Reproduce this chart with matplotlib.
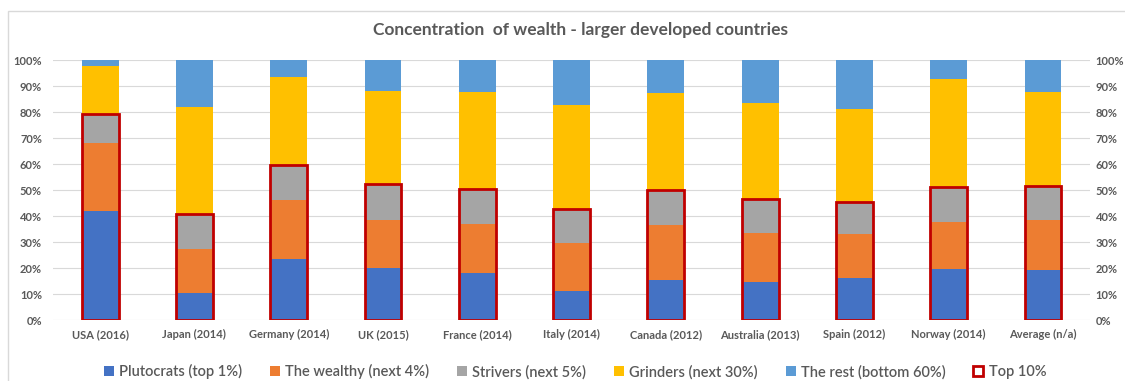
import numpy as np
import matplotlib.pyplot as plt
from matplotlib.patches import Patch, Rectangle

plt.rcParams['font.family'] = ['Lato', 'DejaVu Sans']

countries = ["USA (2016)", "Japan (2014)", "Germany (2014)", "UK (2015)", "France (2014)",
             "Italy (2014)", "Canada (2012)", "Australia (2013)", "Spain (2012)",
             "Norway (2014)", "Average (n/a)"]

# shares of total wealth, percent
plutocrats = [42.2, 10.5, 23.5, 20.1, 18.4, 11.5, 15.5, 14.8, 16.4, 19.9, 19.4]
wealthy = [25.8, 17.0, 22.8, 18.5, 18.8, 18.2, 21.2, 18.7, 16.8, 18.0, 19.2]
strivers = [11.3, 13.4, 13.4, 13.7, 13.3, 13.0, 13.4, 13.0, 12.1, 13.3, 13.1]
grinders = [18.4, 41.2, 33.7, 35.8, 37.1, 39.9, 37.2, 36.9, 35.9, 41.4, 35.9]
the_rest = [2.3, 17.9, 6.6, 11.9, 12.4, 17.4, 12.7, 16.6, 18.8, 7.4, 12.4]

series = [
    ("Plutocrats (top 1%)", plutocrats, "#4472C4"),
    ("The wealthy (next 4%)", wealthy, "#ED7D31"),
    ("Strivers (next 5%)", strivers, "#A5A5A5"),
    ("Grinders (next 30%)", grinders, "#FFC000"),
    ("The rest (bottom 60%)", the_rest, "#5B9BD5"),
]
red = "#C00000"
txt = "#595959"

fig = plt.figure(figsize=(11.25, 3.81), dpi=100)
ax = fig.add_axes([0.0471, 0.1588, 0.9219, 0.6837])

# chart border
fig.patches.append(Rectangle((8 / 1125, -0.1), 1.2, 1 - 11 / 381 + 0.1, transform=fig.transFigure,
                             fill=False, edgecolor="#D9D9D9", linewidth=1.0))

x = np.arange(len(countries))
width = 0.39
bottom = np.zeros(len(countries))
for name, vals, col in series:
    vals = np.array(vals)
    ax.bar(x, vals, width, bottom=bottom, color=col, zorder=2)
    bottom += vals

# top 10% outline
top10 = np.array(plutocrats) + np.array(wealthy) + np.array(strivers)
ax.bar(x, top10, width, fill=False, edgecolor=red, linewidth=2, zorder=3)

ax.set_xlim(-0.5, len(countries) - 0.5)
ax.set_ylim(0, 100)
yt = np.arange(0, 101, 10)
ax.set_yticks(yt)
ax.set_yticklabels([f"{v}%" for v in yt])
ax.set_xticks(x)
ax.set_xticklabels(countries)
ax.grid(axis="y", color="#D9D9D9", linewidth=0.8, zorder=0)
for s in ax.spines.values():
    s.set_visible(False)
ax.tick_params(axis="both", length=0, labelsize=8, labelcolor=txt)
ax.tick_params(axis="y", pad=8)
ax.tick_params(axis="x", pad=6)
for lab in ax.get_xticklabels() + ax.get_yticklabels():
    lab.set_fontweight("bold")

ax2 = ax.twinx()
ax2.set_ylim(0, 100)
ax2.set_yticks(yt)
ax2.set_yticklabels([f"{v}%" for v in yt])
for s in ax2.spines.values():
    s.set_visible(False)
ax2.tick_params(axis="y", length=0, labelsize=8, labelcolor=txt, pad=4)
for lab in ax2.get_yticklabels():
    lab.set_fontweight("bold")

fig.text(0.516, 0.92, "Concentration  of wealth - larger developed countries", ha="center", va="center",
         fontsize=12.5, fontweight="bold", color=txt)

handles = [Patch(facecolor=c, label=n) for n, _, c in series]
handles.append(Patch(facecolor="white", edgecolor=red, linewidth=2, label="Top 10%"))
fig.legend(handles=handles, loc="center", bbox_to_anchor=(0.511, 0.024), ncol=6, frameon=False,
           prop={"size": 10.5, "weight": "semibold"}, handlelength=0.7, handleheight=0.7,
           handletextpad=0.35, columnspacing=1.9, labelcolor=txt)

fig.savefig("out.png", dpi=100)
